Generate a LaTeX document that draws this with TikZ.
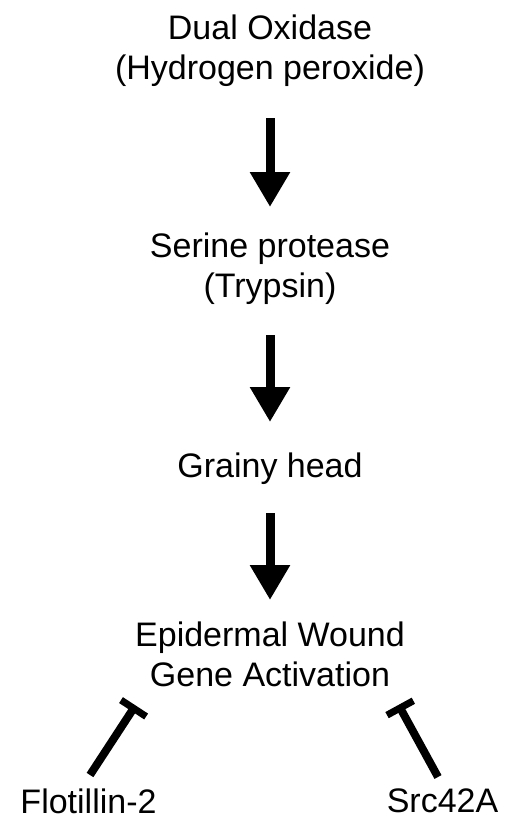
\documentclass[tikz,border=0pt]{standalone}
\usepackage{fontspec}
\setmainfont{Liberation Sans}
\usepackage{tikz}
\usetikzlibrary{arrows.meta}
\tikzset{lbl/.style={font=\fontsize{34}{40}\selectfont,align=center,inner sep=0pt,anchor=north},
  act/.style={line width=9pt,-{Triangle[width=38pt,length=35pt]}},
  inh/.style={line width=8pt,-{Bar[width=30pt,line width=7pt]}}}

\begin{document}
\begin{tikzpicture}[x=1pt,y=-1pt]
  \useasboundingbox (0,0) rectangle (509,823);
  % pathway
  \node[lbl] (dual) at (270,15) {Dual Oxidase\\(Hydrogen peroxide)};
  \node[lbl] (serine) at (270,233) {Serine protease\\(Trypsin)};
  \node[lbl] (grainy) at (270,453) {Grainy head};
  \node[lbl] (gene) at (270,622) {Epidermal Wound\\Gene Activation};
  \draw[act,shorten <=31pt,shorten >=26pt] (dual) -- (serine);
  \draw[act,shorten <=30pt,shorten >=31pt] (serine) -- (grainy);
  \draw[act,shorten <=28pt,shorten >=22pt] (grainy) -- (gene);
  % inhibitors
  \node[lbl] (flot) at (88.5,789) {Flotillin-2};
  \node[lbl] (src) at (442.5,789) {Src42A};
  \draw[inh] ([shift={(1.5pt,14pt)}]flot.north) -- ([shift={(0.5pt,-18pt)}]gene.south west);
  \draw[inh] ([shift={(-4.5pt,12pt)}]src.north) -- ([shift={(-6.5pt,-17.5pt)}]gene.south east);
\end{tikzpicture}
\end{document}
